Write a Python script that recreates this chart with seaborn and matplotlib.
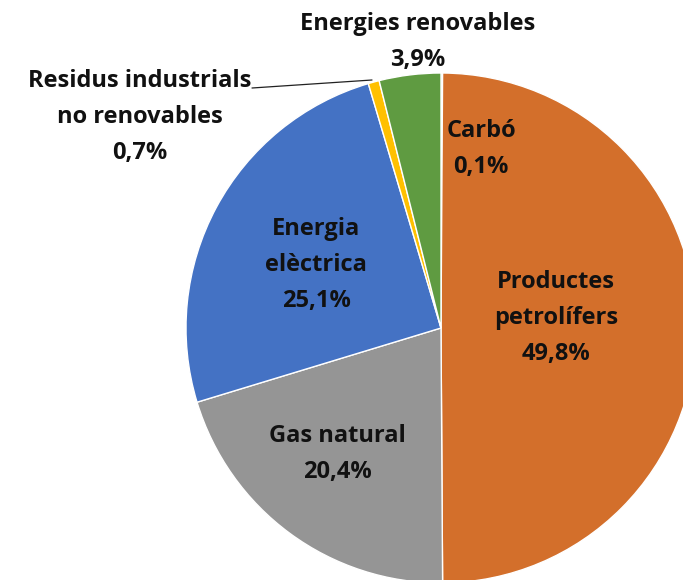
import seaborn as sns
import matplotlib.pyplot as plt

# consum d'energia final per font (%)
fonts = ['Carbó', 'Productes\npetrolífers', 'Gas natural', 'Energia\nelèctrica',
         'Residus industrials\nno renovables', 'Energies renovables']
valors = [0.1, 49.8, 20.4, 25.1, 0.7, 3.9]
colors = ['#A9A9A9', '#D36F2B', '#959595', '#4472C4', '#FFC000', '#5F9B41']

# label positions in pixels (x, y from top)
label_pos = [(481, 149), (556, 318), (337, 454), (316, 265), (140, 117), (418, 42)]

sns.set_theme(style='white')
plt.rcParams['font.family'] = ['Open Sans', 'DejaVu Sans']

W, H = 683, 580
fig = plt.figure(figsize=(W / 100, H / 100), dpi=100)
ax = fig.add_axes([0, 0, 1, 1])

ax.pie(valors, colors=colors, startangle=90, counterclock=False,
       center=(441, H - 328), radius=255, frame=True,
       wedgeprops={'edgecolor': 'white', 'linewidth': 1})
ax.set_xlim(0, W)
ax.set_ylim(0, H)
ax.set_aspect('equal')
ax.axis('off')

for name, v, (x, y) in zip(fonts, valors, label_pos):
    txt = name + '\n' + ('%.1f%%' % v).replace('.', ',')
    ax.text(x, H - y, txt, ha='center', va='center', fontsize=17,
            fontweight='bold', color='#111111', linespacing=1.68)

# leader line for the small slice
ax.plot([252, 372], [H - 88, H - 80], color='#222222', lw=0.9)

fig.savefig('out.png', dpi=100)
